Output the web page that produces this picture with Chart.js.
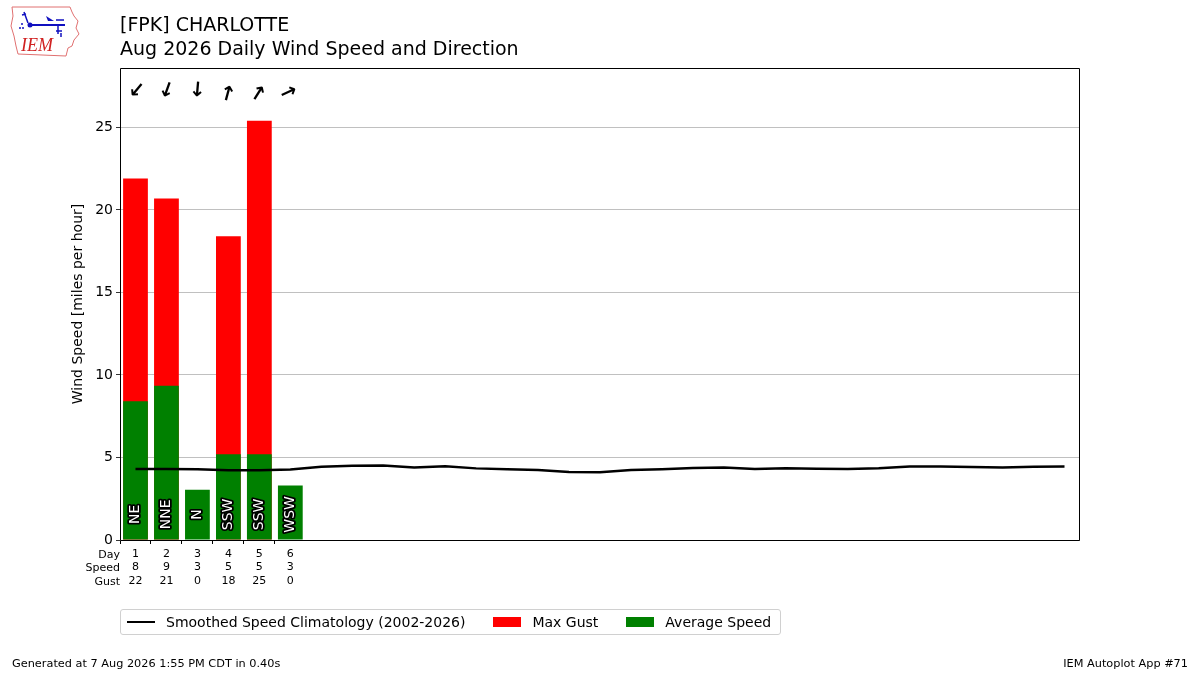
<!DOCTYPE html>
<html lang="en">
<head>
    <meta charset="UTF-8">
    <title>[FPK] CHARLOTTE Aug 2026 Daily Wind Speed and Direction</title>
    <script src="https://cdn.jsdelivr.net/npm/chart.js"></script>
    <style>
        body {
            margin: 0;
            font-family: "DejaVu Sans", sans-serif;
            background: #fff;
        }
        .page {
            position: relative;
            width: 1200px;
            height: 675px;
            overflow: hidden;
        }
        canvas {
            position: absolute;
            left: 0;
            top: 0;
        }
        .title {
            position: absolute;
            left: 120px;
            top: 13px;
            font-size: 19px;
            line-height: 23.5px;
            color: #000;
        }
        .legend {
            position: absolute;
            left: 120px;
            top: 609px;
            height: 24px;
            border: 1px solid #d0d0d0;
            border-radius: 3px;
            display: flex;
            align-items: center;
            font-size: 14px;
            padding: 0 9px 0 6px;
        }
        .legend .sw {
            width: 28px;
            margin-right: 11px;
        }
        .legend .line { height: 2.5px; background: #000; }
        .legend .box { height: 10px; }
        .legend .gap { margin-right: 28px; }
        .footer {
            position: absolute;
            top: 657px;
            font-size: 11.3px;
            color: #000;
        }
        .logo {
            position: absolute;
            left: 8px;
            top: 4px;
        }
    </style>
</head>
<body>
<div class="page">
    <canvas id="windChart" width="1200" height="675"></canvas>
    <svg class="logo" width="74" height="56" viewBox="0 0 74 56">
        <path d="M4 3 L62 3 L64 8 L66 12 L70 17 L68 24 L71 30 L66 36 L64 42 L60 44 L58 52 L10 50 L8 42 L6 32 L3 22 L5 12 Z"
              fill="none" stroke="#e07070" stroke-width="1"/>
        <line x1="22" y1="21" x2="57" y2="21" stroke="#1010c0" stroke-width="2"/>
        <circle cx="22" cy="21" r="2.5" fill="#1010c0"/>
        <path d="M16 8 L20 19 M14 11 L18 10" stroke="#1010c0" stroke-width="1.5" fill="none"/>
        <path d="M38 12 L46 17 L40 17 Z" fill="#1010c0"/>
        <path d="M48 16 L56 16 M50 21 L50 30 M48 27 L54 27 M53 29 L53 33" stroke="#1010c0" stroke-width="1.5" fill="none"/>
        <circle cx="14" cy="20" r="1" fill="#1010c0"/>
        <circle cx="12" cy="24" r="1" fill="#1010c0"/>
        <circle cx="15" cy="24" r="1" fill="#1010c0"/>
        <text x="13" y="47" font-family="Liberation Serif, serif" font-style="italic" font-size="18" fill="#d02020">IEM</text>
    </svg>
    <div class="title">[FPK] CHARLOTTE<br>Aug 2026 Daily Wind Speed and Direction</div>
    <div class="legend">
        <div class="sw line"></div><span class="gap">Smoothed Speed Climatology (2002-2026)</span>
        <div class="sw box" style="background:#ff0000"></div><span class="gap">Max Gust</span>
        <div class="sw box" style="background:#008000"></div><span>Average Speed</span>
    </div>
    <div class="footer" style="left:12px">Generated at 7 Aug 2026 1:55 PM CDT in 0.40s</div>
    <div class="footer" style="right:12px">IEM Autoplot App #71</div>
</div>
<script>
    // days of the month (x categories)
    const days = ['1','2','3','4','5','6','7','8','9','10','11','12','13','14','15','16',
                  '17','18','19','20','21','22','23','24','25','26','27','28','29','30','31'];

    // observed so far
    const avgSpeed = [8.4, 9.35, 3.05, 5.2, 5.2, 3.3];
    const maxGust = [21.9, 20.7, 0, 18.4, 25.4, 0];
    const dirText = ['NE', 'NNE', 'N', 'SSW', 'SSW', 'WSW'];
    const dirDegrees = [40, 20, 5, 195, 212, 245];

    // table under the x axis
    const speedLabels = ['8', '9', '3', '5', '5', '3'];
    const gustLabels = ['22', '21', '0', '18', '25', '0'];

    // smoothed climatology for each day
    const climo = [4.30, 4.30, 4.28, 4.22, 4.22, 4.27, 4.44, 4.50, 4.52, 4.40,
                   4.47, 4.34, 4.28, 4.24, 4.12, 4.10, 4.24, 4.29, 4.36, 4.40,
                   4.30, 4.35, 4.32, 4.30, 4.35, 4.45, 4.46, 4.42, 4.40, 4.44, 4.46];

    const yTicks = [0, 5, 10, 15, 20, 25];

    Chart.defaults.font.family = '"DejaVu Sans", sans-serif';
    Chart.defaults.font.size = 14;
    Chart.defaults.color = '#000';

    // arrows, direction text, row labels and the frame
    const extras = {
        id: 'extras',
        afterDraw(chart) {
            const ctx = chart.ctx;
            const xs = chart.scales.x;
            const ys = chart.scales.y;
            const area = chart.chartArea;
            ctx.save();

            // direction names inside the bars, centred a bit above the axis
            ctx.font = '14px "DejaVu Sans"';
            ctx.textAlign = 'center';
            ctx.textBaseline = 'middle';
            ctx.lineJoin = 'round';
            dirText.forEach((d, i) => {
                ctx.save();
                ctx.translate(xs.getPixelForValue(i), ys.getPixelForValue(1.55));
                ctx.rotate(-Math.PI / 2);
                ctx.strokeStyle = '#000';
                ctx.lineWidth = 3.5;
                ctx.strokeText(d, 0, 0);
                ctx.fillStyle = '#fff';
                ctx.fillText(d, 0, 0);
                ctx.restore();
            });

            // wind arrows across the top
            ctx.font = 'bold 20px "DejaVu Sans"';
            ctx.fillStyle = '#000';
            dirDegrees.forEach((deg, i) => {
                ctx.save();
                ctx.translate(xs.getPixelForValue(i), ys.getPixelForValue(27.2));
                ctx.rotate(deg * Math.PI / 180);
                ctx.fillText('\u2193', 0, 0);
                ctx.restore();
            });

            // row labels for the table
            ctx.font = '11px "DejaVu Sans"';
            ctx.textAlign = 'right';
            ['Day', 'Speed', 'Gust'].forEach((t, k) => {
                ctx.fillText(t, area.left, area.bottom + 15 + k * 13.5);
            });

            // frame
            ctx.strokeStyle = '#000';
            ctx.lineWidth = 1;
            ctx.strokeRect(Math.round(area.left) + 0.5, Math.round(area.top) + 0.5,
                           Math.round(area.width) - 1, Math.round(area.height));
            ctx.restore();
        }
    };

    const ctx = document.getElementById('windChart').getContext('2d');
    const windChart = new Chart(ctx, {
        data: {
            labels: days,
            datasets: [{
                type: 'line',
                label: 'Smoothed Speed Climatology (2002-2026)',
                data: climo,
                borderColor: '#000',
                borderWidth: 2.5,
                pointRadius: 0,
                order: 0
            }, {
                type: 'bar',
                label: 'Average Speed',
                data: avgSpeed,
                backgroundColor: '#008000',
                grouped: false,
                barPercentage: 0.8,
                categoryPercentage: 1.0,
                order: 1
            }, {
                type: 'bar',
                label: 'Max Gust',
                data: maxGust,
                backgroundColor: '#ff0000',
                grouped: false,
                barPercentage: 0.8,
                categoryPercentage: 1.0,
                order: 2
            }]
        },
        options: {
            responsive: false,
            animation: false,
            layout: {
                padding: { left: 66, right: 120, top: 68, bottom: 0 }
            },
            plugins: {
                legend: { display: false },
                tooltip: { enabled: false }
            },
            scales: {
                x: {
                    type: 'category',
                    offset: true,
                    border: { display: false },
                    grid: {
                        drawOnChartArea: false,
                        tickLength: 4,
                        tickColor: (c) => c.index < avgSpeed.length ? '#000' : 'rgba(0,0,0,0)'
                    },
                    ticks: {
                        autoSkip: false,
                        maxRotation: 0,
                        padding: 3,
                        font: { size: 11, lineHeight: 1.23 },
                        callback: (v, i) => i < avgSpeed.length ? [days[i], speedLabels[i], gustLabels[i]] : ''
                    },
                    afterFit: (scale) => { scale.height = 135; }
                },
                y: {
                    min: 0,
                    max: 28.6,
                    border: { display: false },
                    grid: {
                        color: '#b0b0b0',
                        lineWidth: 0.8,
                        tickColor: '#000',
                        tickLength: 4
                    },
                    ticks: {
                        stepSize: 5,
                        includeBounds: false,
                        padding: 3,
                        callback: (v) => yTicks.includes(v) ? String(v) : ''
                    },
                    title: {
                        display: true,
                        text: 'Wind Speed [miles per hour]',
                        font: { size: 14 },
                        padding: { top: 4, bottom: 4 }
                    },
                    afterFit: (scale) => { scale.width = 54; }
                }
            }
        },
        plugins: [extras]
    });
</script>
</body>
</html>
